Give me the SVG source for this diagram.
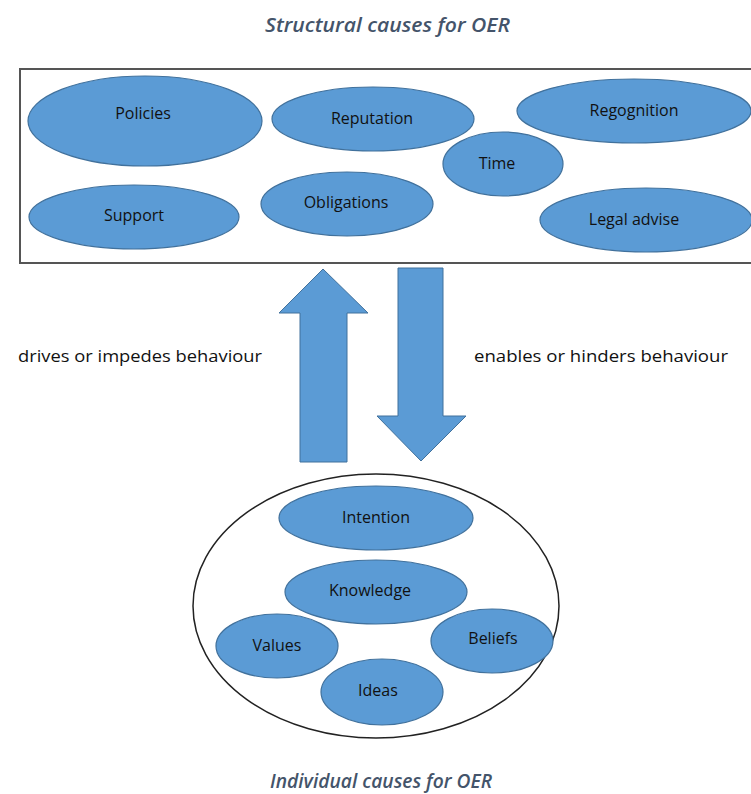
<svg xmlns="http://www.w3.org/2000/svg" width="751" height="794" viewBox="0 0 751 794">
<style>
.n ellipse{fill:#5b9bd5;stroke:#41719c;stroke-width:1.2}
.n text{font-family:"Open Sans","Liberation Sans",sans-serif;font-size:16px;fill:#111;text-anchor:middle;dominant-baseline:central}
.title{font-family:"Open Sans","Liberation Sans",sans-serif;font-size:19px;font-style:italic;font-weight:600;fill:#44546a}
.lbl{font-family:"Open Sans","Liberation Sans",sans-serif;font-size:15.5px;fill:#111}
.arrow{fill:#5b9bd5;stroke:#41719c;stroke-width:1}
</style>
<rect width="751" height="794" fill="#fff"/>
<text class="title" x="265" y="32" textLength="245" lengthAdjust="spacingAndGlyphs">Structural causes for OER</text>
<text class="title" x="270" y="788" textLength="222" lengthAdjust="spacingAndGlyphs">Individual causes for OER</text>
<rect x="20" y="69" width="740" height="194" fill="none" stroke="#555" stroke-width="2"/>
<g id="policies" class="n"><ellipse cx="145" cy="121" rx="117" ry="45"/><text x="143" y="113">Policies</text></g>
<g id="reputation" class="n"><ellipse cx="373" cy="119" rx="101" ry="32"/><text x="372" y="118">Reputation</text></g>
<g id="regognition" class="n"><ellipse cx="634" cy="111" rx="117" ry="32"/><text x="634" y="110">Regognition</text></g>
<g id="time" class="n"><ellipse cx="503" cy="164" rx="60" ry="32"/><text x="497" y="163">Time</text></g>
<g id="support" class="n"><ellipse cx="134" cy="217" rx="105" ry="32"/><text x="134" y="215">Support</text></g>
<g id="obligations" class="n"><ellipse cx="347" cy="204" rx="86" ry="32"/><text x="346" y="202">Obligations</text></g>
<g id="legal" class="n"><ellipse cx="646" cy="220" rx="106" ry="32"/><text x="634" y="219">Legal advise</text></g>
<g id="connectors">
<polygon class="arrow" points="323,269 368,313 347,313 347,462 300,462 300,313 279,313"/>
<polygon class="arrow" points="398,268 443,268 443,416 466,416 421,461 377,416 398,416"/>
<text class="lbl" x="18" y="362" textLength="244" lengthAdjust="spacingAndGlyphs">drives or impedes behaviour</text>
<text class="lbl" x="474" y="362" textLength="254" lengthAdjust="spacingAndGlyphs">enables or hinders behaviour</text>
</g>
<ellipse id="individual" cx="376" cy="606" rx="183" ry="132" fill="none" stroke="#222" stroke-width="1.5"/>
<g id="intention" class="n"><ellipse cx="376" cy="518" rx="97" ry="32"/><text x="376" y="517">Intention</text></g>
<g id="knowledge" class="n"><ellipse cx="376" cy="592" rx="91" ry="32"/><text x="370" y="590">Knowledge</text></g>
<g id="values" class="n"><ellipse cx="277" cy="646" rx="61" ry="32"/><text x="277" y="645">Values</text></g>
<g id="beliefs" class="n"><ellipse cx="492" cy="641" rx="61" ry="32"/><text x="493" y="638">Beliefs</text></g>
<g id="ideas" class="n"><ellipse cx="382" cy="692" rx="61" ry="33"/><text x="378" y="690">Ideas</text></g>
</svg>
